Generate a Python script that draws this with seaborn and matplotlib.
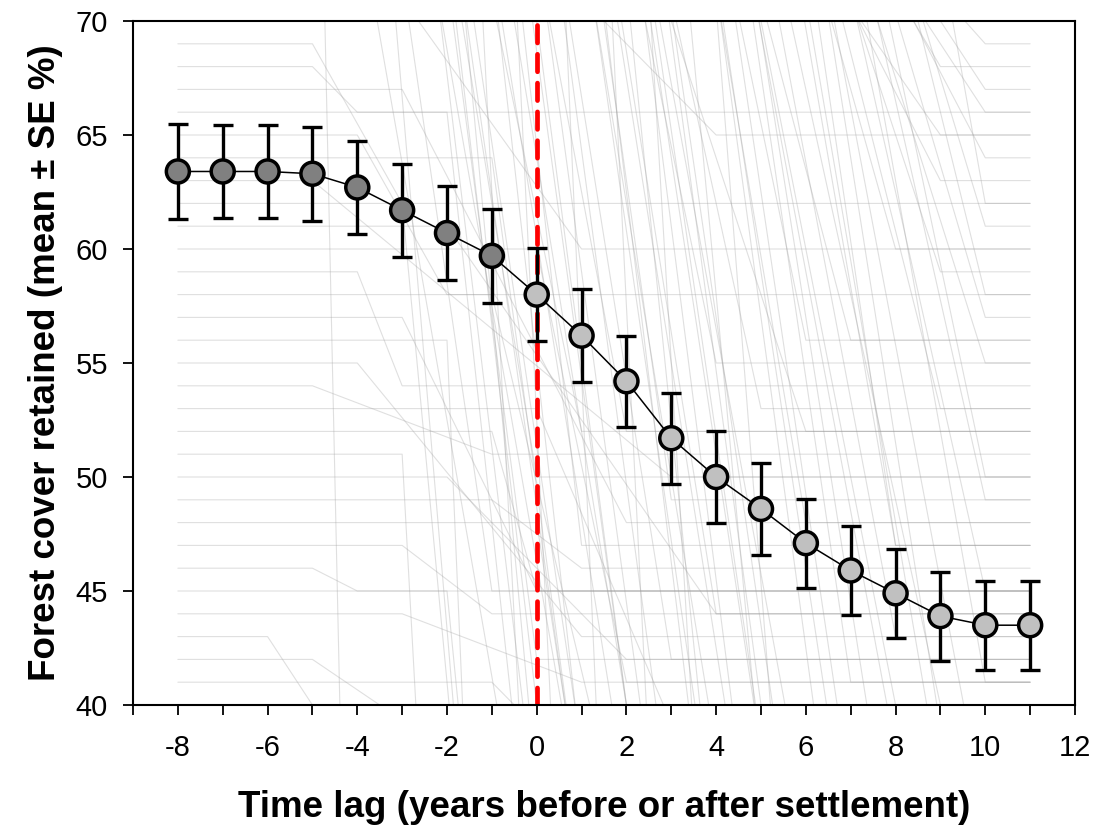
import numpy as np
import pandas as pd
import matplotlib
matplotlib.use('Agg')
import matplotlib.pyplot as plt
import seaborn as sns

# Mean forest cover retained per time lag
lag = [-8, -7, -6, -5, -4, -3, -2, -1, 0, 1, 2, 3, 4, 5, 6, 7, 8, 9, 10, 11]
cover_mean = [63.4, 63.4, 63.4, 63.3, 62.7, 61.7, 60.7, 59.7, 58.0, 56.2,
              54.2, 51.7, 50.0, 48.6, 47.1, 45.9, 44.9, 43.9, 43.5, 43.5]
cover_se = [2.1, 2.05, 2.05, 2.05, 2.05, 2.05, 2.05, 2.05, 2.05, 2.05,
            2.0, 2.0, 2.0, 2.0, 1.95, 1.95, 1.95, 1.95, 1.95, 1.95]

# Individual trajectories in the background (estimated):
# flat at start level until t0, decline to end level at t1, flat afterwards
bg_start = [69, 68, 67, 66, 65, 64, 63, 62, 61, 60, 59, 58, 57, 56, 55, 54, 53, 52, 51, 50,
            49, 48, 47, 46, 45, 44, 43, 42, 41,
            75, 72, 80, 78, 90, 74, 85, 76, 82, 88, 73, 79, 95, 86, 77, 81, 92, 74, 84, 78,
            71, 83, 89, 75, 80, 87, 76, 90, 100, 71,
            80, 78, 85, 75, 82, 79, 90, 74, 88, 83, 77, 86, 80, 92, 76, 84, 81, 95, 73, 71,
            90, 85, 95, 88, 80, 92, 84, 98, 86, 90, 82, 94, 87, 80, 78, 100, 76, 83, 79, 91,
            77, 96, 81, 89, 85, 74, 73, 99, 93, 97, 88, 79, 84, 72]
bg_t0 = [-5, -5, -3, -2, -4, -1, -5, -3, -2, 0, -4, -1, -3, -2, -4, -5, 0, -1, -3, -2,
         -1, 0, -3, -5, -2, -3, -6, -5, -1,
         -4, -3, -3, -2, -3, -2, -2, -1, -1, -1, 0, 0, -5, 0, 1, 1, 1, 2, 2, 2,
         3, 3, 3, 4, 4, 5, 5, -4, -2, -1,
         5, 6, 4, 7, 3, 6, 2, 8, 4, 5, 7, 3, 6, 4, 2, 6, 5, 3, 0, -3,
         -2, -1, 0, 0, 1, 1, 2, 2, 3, 3, 4, 4, 5, 6, 7, -3, -2, -1, 0, 1,
         2, 3, 4, 5, 6, 8, 9, 0, -1, 1, 2, 3, -3, -2]
bg_t1 = [-3, -4, 2, 0, -2, 1, 3, -1, 4, 2, -3, 3, 0, -1, 1, -1, 5, 0, -2, 2,
         1, 3, -1, -4, 0, 1, -4, -2, 0,
         0, -1, 1, 1, 0, 0, 2, 2, 1, 3, 2, 3, -4, 4, 3, 4, 5, 4, 5, 6,
         5, 6, 7, 6, 8, 8, 9, -1, 0, 1,
         10, 9, 10, 10, 9, 10, 9, 10, 8, 9, 10, 7, 10, 9, 6, 10, 8, 8, 4, 1,
         2, 3, 4, 5, 5, 6, 6, 8, 7, 9, 8, 10, 10, 10, 10, 1, 1, 2, 3, 4,
         5, 6, 7, 9, 10, 10, 10, 2, 1, 3, 4, 5, 0, 0]
bg_end = [62, 66, 48, 30, 58, 35, 50, 20, 44, 41, 54, 25, 45, 10, 43, 51, 30, 45, 15, 42,
          46, 10, 44, 45, 5, 41, 37, 38, 39,
          30, 45, 35, 38, 40, 50, 36, 40, 47, 30, 52, 42, 5, 38, 49, 44, 30, 55, 40, 35,
          53, 48, 36, 56, 38, 47, 40, 20, 25, 52,
          69, 68, 67, 66, 65, 64, 63, 61, 60, 59, 57, 56, 55, 53, 52, 49, 47, 43, 65, 60,
          20, 25, 30, 20, 30, 25, 30, 20, 28, 30, 32, 25, 35, 45, 50, 15, 35, 40, 35, 33,
          38, 20, 41, 39, 41, 58, 62, 10, 12, 18, 22, 37, 35, 42]

rows = []
for i, (s, t0, t1, e) in enumerate(zip(bg_start, bg_t0, bg_t1, bg_end)):
    for x, y in zip([-8, t0, t1, 11], [s, s, e, e]):
        rows.append({'id': i, 'x': x, 'y': y})
bg = pd.DataFrame(rows)

df = pd.DataFrame({'lag': lag, 'mean': cover_mean, 'se': cover_se})
df['phase'] = np.where(df['lag'] < 0, 'before', 'after')

sns.set_style('ticks')
plt.rcParams['font.family'] = ['Liberation Sans', 'DejaVu Sans']
plt.rcParams['axes.unicode_minus'] = False
plt.rcParams['text.color'] = 'black'
plt.rcParams['axes.labelcolor'] = 'black'
plt.rcParams['xtick.color'] = 'black'
plt.rcParams['ytick.color'] = 'black'

fig = plt.figure(figsize=(10.96, 8.33), dpi=100)
ax = fig.add_axes([133 / 1096, 128 / 833, 942 / 1096, 684 / 833])

# background trajectories
sns.lineplot(data=bg, x='x', y='y', units='id', estimator=None, sort=False,
             color='#a0a0a0', alpha=0.33, linewidth=0.8, ax=ax, zorder=1)

# settlement line
ax.axvline(0, color='#ff0000', linewidth=3.4, dashes=(3.7, 2.4),
           dash_capstyle='round', zorder=2)

# mean +/- SE
ax.errorbar(df['lag'], df['mean'], yerr=df['se'], fmt='none', ecolor='black',
            elinewidth=2.4, capsize=7.5, capthick=2.4, zorder=3)
sns.lineplot(data=df, x='lag', y='mean', color='black', linewidth=1.1, ax=ax, zorder=4)
sns.scatterplot(data=df, x='lag', y='mean', hue='phase',
                palette={'before': '#808080', 'after': '#c0c0c0'},
                s=275, edgecolor='black', linewidth=2.5, legend=False, ax=ax, zorder=5)

ax.set_xlim(-9, 12)
ax.set_ylim(40, 70)
ax.set_xticks(range(-9, 13))
ax.set_xticklabels([str(v) if v % 2 == 0 else '' for v in range(-9, 13)])
ax.set_yticks(range(40, 71, 5))
ax.tick_params(axis='both', direction='out', length=7, width=1.3, labelsize=21,
               colors='black')
ax.tick_params(axis='x', pad=14)
ax.tick_params(axis='y', pad=11)

for sp in ax.spines.values():
    sp.set_linewidth(1.5)
    sp.set_color('black')

ax.set_xlabel('Time lag (years before or after settlement)', fontsize=26.5,
              fontweight='bold', labelpad=20)
ax.set_ylabel('Forest cover retained (mean ± SE %)', fontsize=26.5,
              fontweight='bold', labelpad=9)

fig.savefig('out.png', dpi=100)
